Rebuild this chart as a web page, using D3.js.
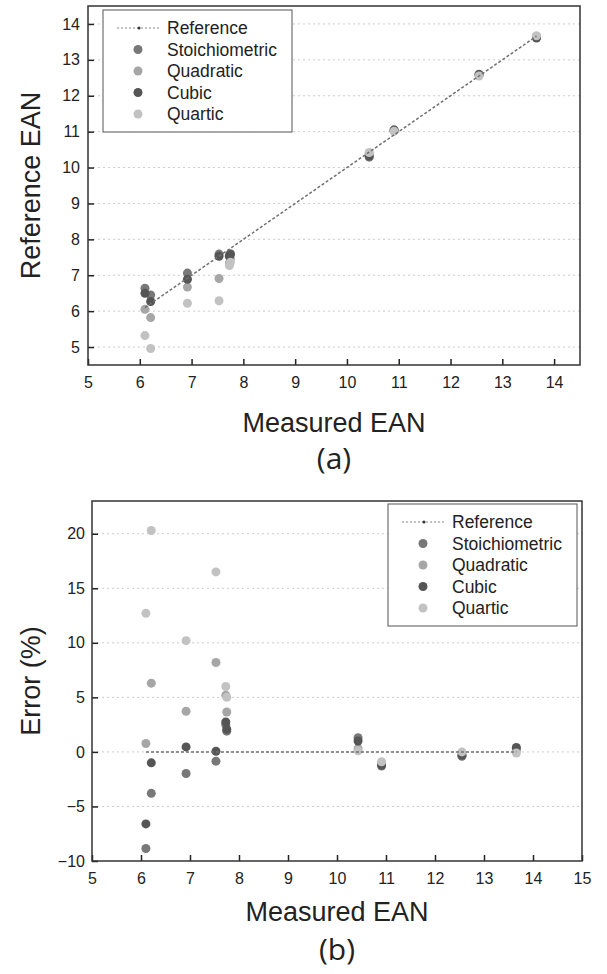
<!DOCTYPE html>
<html>
<head>
<meta charset="utf-8">
<title>Measured vs reference EAN</title>
<script src="https://cdnjs.cloudflare.com/ajax/libs/d3/7.8.5/d3.min.js"></script>
<style>
  body { margin: 0; background: #fff; }
  text { font-family: "Liberation Sans", Arial, sans-serif; fill: #222; }
</style>
</head>
<body>
<div id="chart"></div>
<script>
// measured EAN of each sample (x value, shared by both panels)
const measured = [6.10, 6.21, 6.92, 7.53, 7.73, 7.75, 10.43, 10.91, 12.55, 13.66];
const seriesNames = ["Stoichiometric", "Quadratic", "Cubic", "Quartic"];

// panel (a): reference EAN for each model
const refStoich    = [6.64, 6.45, 7.06, 7.59, 7.55, 7.60, 10.29, 11.05, 12.60, 13.62];
const refQuadratic = [6.05, 5.82, 6.67, 6.91, 7.34, 7.46, 10.40, 11.02, 12.58, 13.65];
const refCubic     = [6.50, 6.27, 6.89, 7.53, 7.53, 7.58, 10.32, 11.04, 12.59, 13.61];
const refQuartic   = [5.32, 4.96, 6.22, 6.29, 7.27, 7.36, 10.42, 11.01, 12.55, 13.67];

// panel (b): error in %
const errStoich    = [-8.85, -3.8, -1.98, -0.85, 2.5, 1.9, 1.3, -1.3, -0.4, 0.3];
const errQuadratic = [0.77, 6.3, 3.73, 8.2, 5.2, 3.66, 0.3, -1.0, -0.2, 0.1];
const errCubic     = [-6.6, -1.0, 0.46, 0.06, 2.75, 2.08, 1.0, -1.2, -0.3, 0.4];
const errQuartic   = [12.7, 20.3, 10.2, 16.5, 6.0, 5.0, 0.1, -0.9, 0.0, -0.1];

// tick labels
const xTicksA = [5, 6, 7, 8, 9, 10, 11, 12, 13, 14];
const yTicksA = [5, 6, 7, 8, 9, 10, 11, 12, 13, 14];
const xTicksB = [5, 6, 7, 8, 9, 10, 11, 12, 13, 14, 15];
const yTicksB = [-10, -5, 0, 5, 10, 15, 20];

const colors = ["#787878", "#a6a6a6", "#555555", "#c2c2c2"];

const svg = d3.select('#chart')
  .append('svg')
  .attr('width', 607)
  .attr('height', 974);

function panel(o) {
  const x = d3.scaleLinear().domain(o.xDomain).range([o.left, o.right]);
  const y = d3.scaleLinear().domain(o.yDomain).range([o.bottom, o.top]);
  const g = svg.append('g');

  // dotted horizontal grid
  g.selectAll('.grid')
    .data(o.yTicks.filter(v => y(v) < o.bottom - 1))
    .join('line')
    .attr('x1', o.left).attr('x2', o.right)
    .attr('y1', d => y(d)).attr('y2', d => y(d))
    .attr('stroke', '#cccccc')
    .attr('stroke-width', 1)
    .attr('stroke-dasharray', '2,3');

  const xAxis = g.append('g')
    .attr('transform', `translate(0,${o.bottom})`)
    .call(d3.axisBottom(x).tickValues(o.xTicks).tickSizeInner(-6).tickSizeOuter(0).tickPadding(12));
  const yAxis = g.append('g')
    .attr('transform', `translate(${o.left},0)`)
    .call(d3.axisLeft(y).tickValues(o.yTicks).tickSizeInner(-6).tickSizeOuter(0).tickPadding(o.yPad));
  [xAxis, yAxis].forEach(a => {
    a.select('.domain').remove();
    a.selectAll('line').attr('stroke', '#222').attr('stroke-width', 1.5);
    a.selectAll('text').attr('font-size', '16px').attr('fill', '#222')
      .style('font-family', '"Liberation Sans", Arial, sans-serif');
  });

  // points
  o.series.forEach((vals, si) => {
    g.append('g').selectAll('circle')
      .data(measured.map((m, i) => [m, vals[i]]))
      .join('circle')
      .attr('cx', d => x(d[0]))
      .attr('cy', d => y(d[1]))
      .attr('r', 4.5)
      .attr('fill', colors[si]);
  });

  // reference line
  const line = d3.line().x(d => x(d[0])).y(d => y(d[1]));
  g.append('path')
    .datum(o.ref)
    .attr('d', line)
    .attr('fill', 'none')
    .attr('stroke', '#707070')
    .attr('stroke-width', 1.5)
    .attr('stroke-dasharray', '3,2');

  // frame
  g.append('rect')
    .attr('x', o.left).attr('y', o.top)
    .attr('width', o.right - o.left).attr('height', o.bottom - o.top)
    .attr('fill', 'none').attr('stroke', '#333').attr('stroke-width', 1.5);

  // legend
  const lg = g.append('g').attr('transform', `translate(${o.legend[0]},${o.legend[1]})`);
  lg.append('rect')
    .attr('width', o.legend[2]).attr('height', 122)
    .attr('fill', '#fff').attr('stroke', '#555').attr('stroke-width', 1);
  const rows = ["Reference"].concat(seriesNames);
  rows.forEach((name, i) => {
    const ry = 18 + i * 21.5;
    if (i === 0) {
      lg.append('line').attr('x1', 14).attr('x2', 57).attr('y1', ry).attr('y2', ry)
        .attr('stroke', '#888').attr('stroke-width', 1).attr('stroke-dasharray', '2,2');
      lg.append('circle').attr('cx', 36).attr('cy', ry).attr('r', 1.5).attr('fill', '#333');
    } else {
      lg.append('circle').attr('cx', 35).attr('cy', ry).attr('r', 4.5).attr('fill', colors[i - 1]);
    }
    lg.append('text').attr('x', 64).attr('y', ry + 6)
      .attr('font-size', '17.5px').text(name);
  });

  // axis titles
  svg.append('text')
    .attr('x', (o.left + o.right) / 2).attr('y', o.xTitleY)
    .attr('text-anchor', 'middle').attr('font-size', '27px')
    .text('Measured EAN');
  svg.append('text')
    .attr('transform', `translate(40,${(o.top + o.bottom) / 2}) rotate(-90)`)
    .attr('text-anchor', 'middle').attr('font-size', '27px')
    .text(o.yTitle);
  svg.append('text')
    .attr('x', (o.left + o.right) / 2).attr('y', o.tagY)
    .attr('text-anchor', 'middle').attr('font-size', '30px')
    .style('font-family', '"Open Sans", sans-serif')
    .text(o.tag);
}

panel({
  left: 88, right: 580, top: 6, bottom: 365,
  xDomain: [5, 14.5], yDomain: [4.5, 14.5],
  xTicks: xTicksA, yTicks: yTicksA, yPad: 8,
  series: [refStoich, refQuadratic, refCubic, refQuartic],
  ref: measured.map(m => [m, m]),
  legend: [103, 10, 189],
  yTitle: 'Reference EAN', xTitleY: 432, tag: '(a)', tagY: 469
});

panel({
  left: 92, right: 582, top: 501, bottom: 861,
  xDomain: [5, 15], yDomain: [-10, 23],
  xTicks: xTicksB, yTicks: yTicksB, yPad: 7,
  series: [errStoich, errQuadratic, errCubic, errQuartic],
  ref: measured.map(m => [m, 0]),
  legend: [388, 504, 189],
  yTitle: 'Error (%)', xTitleY: 921, tagY: 960, tag: '(b)'
});
</script>
</body>
</html>
